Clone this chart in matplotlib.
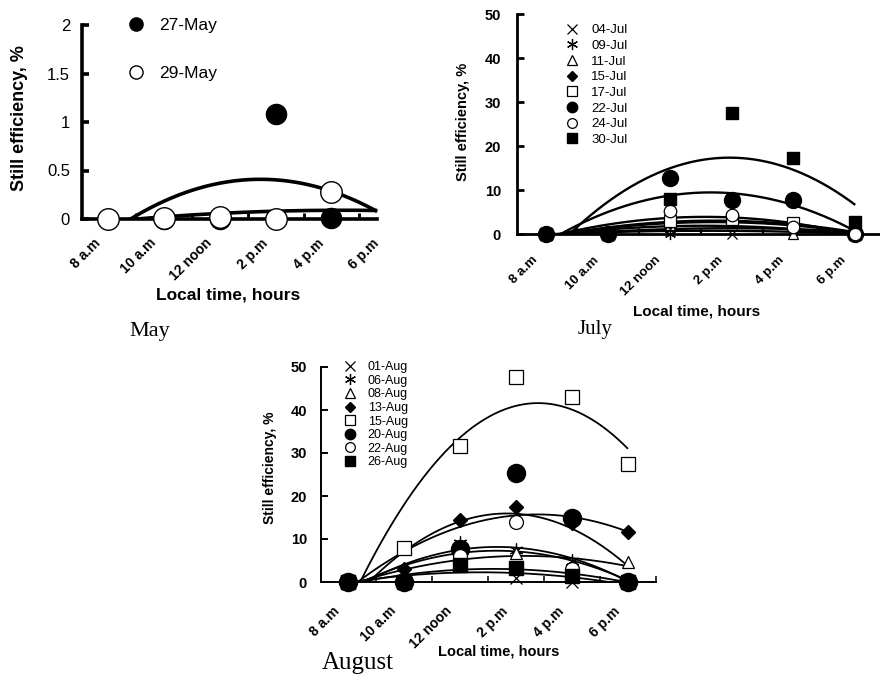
import numpy as np
import matplotlib
matplotlib.use('Agg')
import matplotlib.pyplot as plt
from matplotlib.lines import Line2D
from matplotlib.transforms import ScaledTranslation

plt.rcParams['font.family'] = ['Liberation Sans', 'DejaVu Sans']

W, H, DPI = 880, 679, 100

# ---------------- data ----------------
times = ['8 a.m', '10 a.m', '12 noon', '2 p.m', '4 p.m', '6 p.m']

may_labels = ['27-May', '29-May']
may_27 = [0, 0, 0, 1.08, 0.01, np.nan]
may_29 = [0, 0.01, 0.02, 0, 0.28, 0]
may_yticks = [0, 0.5, 1, 1.5, 2]
may_yticklabels = ['0', '0.5', '1', '1.5', '2']

jul_labels = ['04-Jul', '09-Jul', '11-Jul', '15-Jul', '17-Jul', '22-Jul', '24-Jul', '30-Jul']
jul_04 = [0, 0, 1.5, 0, 0.8, 0]
jul_09 = [0, 0, 0, 2.5, 1.5, 0]
jul_11 = [0, 0, 2.0, 3.0, 0, 0]
jul_15 = [0, 0, 2.5, 3.5, 2.0, 0]
jul_17 = [0, 0, 3.0, 3.5, 2.6, 0]
jul_22 = [0, 0, 12.8, 7.8, 7.7, 0]
jul_24 = [0, 0, 5.2, 4.3, 1.5, 0]
jul_30 = [0, 0, 7.9, 27.5, 17.2, 2.7]

aug_labels = ['01-Aug', '06-Aug', '08-Aug', '13-Aug', '15-Aug', '20-Aug', '22-Aug', '26-Aug']
aug_01 = [0, 0, 5.0, 1.0, 0, 0]
aug_06 = [0, 0, 9.0, 7.4, 5.0, 0]
aug_08 = [0, 0, 8.0, 6.7, 3.2, 4.6]
aug_13 = [0, 3.0, 14.4, 17.5, 13.8, 11.7]
aug_15 = [0, 7.9, 31.6, 47.7, 43.0, 27.4]
aug_20 = [0, 0, 7.7, 25.3, 14.9, 0]
aug_22 = [0, 0, 6.0, 13.9, 3.0, 0]
aug_26 = [0, 0, 4.0, 3.3, 1.4, 0]

big_yticks = [0, 10, 20, 30, 40, 50]
big_yticklabels = ['0', '10', '20', '30', '40', '50']

x_pos = np.arange(len(times))

# ---------------- figure ----------------
fig = plt.figure(figsize=(W / DPI, H / DPI), dpi=DPI)
fig.patch.set_facecolor('white')


def add_axes_px(l, r, t, b):
    return fig.add_axes([l / W, 1 - b / H, (r - l) / W, (b - t) / H])


def px2ax(ax, px, py):
    return ax.transAxes.inverted().transform((px, H - py))


def setup(ax, xlim, xbounds, ylim, yticks, yticklabels, spine_w, ytick_fs, ytick_w,
          ypad_px, xtick_fs, xpad_px, xdx_px, minor_x):
    ax.set_xlim(*xlim)
    ax.set_ylim(*ylim)
    for s in ['top', 'right']:
        ax.spines[s].set_visible(False)
    for s in ['left', 'bottom']:
        ax.spines[s].set_linewidth(spine_w)
        ax.spines[s].set_capstyle('projecting')
    ax.spines['bottom'].set_bounds(*xbounds)
    ax.set_yticks(yticks)
    ax.set_yticklabels(yticklabels, fontsize=ytick_fs, fontweight=ytick_w)
    ax.tick_params(axis='y', direction='in', length=5, width=spine_w, pad=ypad_px * 72 / DPI)
    ax.set_xticks(x_pos)
    ax.set_xticklabels(times, fontsize=xtick_fs, fontweight='bold', rotation=45,
                       ha='right', va='top', rotation_mode='anchor')
    ax.tick_params(axis='x', which='major', length=0, pad=xpad_px * 72 / DPI)
    ax.set_xticks(minor_x, minor=True)
    ax.tick_params(axis='x', which='minor', direction='in', length=4, width=spine_w * 0.8)
    off = ScaledTranslation(xdx_px / DPI, 0, fig.dpi_scale_trans)
    for lab in ax.get_xticklabels():
        lab.set_transform(lab.get_transform() + off)
    ax.set_facecolor('none')


def draw(ax, series, styles, xend, lw):
    x0 = ax.get_xlim()[0]
    xs = np.linspace(x0, xend, 400)
    for y, st in zip(series, styles):
        y = np.asarray(y, float)
        ok = ~np.isnan(y)
        coef = np.polyfit(x_pos[ok], y[ok], 2)
        ax.plot(xs, np.polyval(coef, xs), color=st.get('lc', 'black'), lw=lw,
                ls=st.get('ls', '-'), zorder=2, solid_capstyle='butt')
    keep = x_pos <= xend + 1e-9
    for y, st in zip(series, styles):
        ax.plot(x_pos[keep], np.asarray(y, float)[keep], ls='none', marker=st['m'],
                ms=st['ms'], mfc=st['fc'], mec='black', mew=st.get('mew', 1.0),
                clip_on=False, zorder=3)


def legend(ax, labels, styles, fs, px, py, spacing, pad=0.8):
    handles = [Line2D([], [], ls='none', marker=st['m'], ms=st['lms'], mfc=st['fc'],
                      mec='black', mew=st.get('mew', 1.0)) for st in styles]
    ax.legend(handles, labels, loc='upper left', bbox_to_anchor=(px / W, 1 - py / H),
              bbox_transform=fig.transFigure, frameon=False, fontsize=fs,
              handlelength=1.0, handletextpad=pad, labelspacing=spacing,
              borderpad=0, borderaxespad=0)


def ylab(ax, text, fs, px, py):
    ax.set_ylabel(text, fontsize=fs, fontweight='bold')
    ax.yaxis.label.set_va('center')
    ax.yaxis.set_label_coords(*px2ax(ax, px, py))


def xlab(ax, text, fs, px, py):
    ax.set_xlabel(text, fontsize=fs, fontweight='bold')
    ax.xaxis.label.set_va('center')
    ax.xaxis.set_label_coords(*px2ax(ax, px, py))


ast = (6, 2, 0)
serif = ['Liberation Serif', 'DejaVu Serif']

# ---------------- May ----------------
ax1 = add_axes_px(82, 390, 25, 219)
setup(ax1, (-0.47, 5.05), (-0.47, 4.82), (0, 2), may_yticks, may_yticklabels, 2.6,
      12, 'normal', 12, 10, 17, -15, [0.5, 1.5, 2.5, 3.5, 4.5])
may_styles = [dict(m='o', ms=14.5, lms=9.5, fc='black'),
              dict(m='o', ms=15.5, lms=9.5, fc='white')]
draw(ax1, [may_27, may_29], may_styles, 4.82, 2.6)
legend(ax1, may_labels, may_styles, 12.5, 127, 18, 1.9, 0.85)
ylab(ax1, 'Still efficiency, %', 13, 19, 118)
xlab(ax1, 'Local time, hours', 12.5, 228, 295)
fig.text(150 / W, 1 - 331 / H, 'May', family=serif, fontsize=16, ha='center', va='center')

# ---------------- July ----------------
ax2 = add_axes_px(517, 880, 14, 234)
setup(ax2, (-0.47, 5.4), (-0.47, 5.4), (0, 50), big_yticks, big_yticklabels, 2.0,
      10.5, 'bold', 16, 9.5, 20, -15, [0.5, 1.5, 2.5, 3.5, 4.5])
jul_styles = [dict(m='x', ms=7, lms=7, fc='black', mew=0.9),
              dict(m=ast, ms=8, lms=8, fc='black', mew=0.9),
              dict(m='^', ms=7, lms=7, fc='white', mew=0.9),
              dict(m='D', ms=6, lms=5.5, fc='black'),
              dict(m='s', ms=8, lms=7, fc='white', mew=0.9),
              dict(m='o', ms=11.5, lms=7.5, fc='black'),
              dict(m='o', ms=9, lms=7, fc='white', mew=0.9),
              dict(m='s', ms=9, lms=7, fc='black')]
draw(ax2, [jul_04, jul_09, jul_11, jul_15, jul_17, jul_22, jul_24, jul_30],
     jul_styles, 5.0, 1.7)
legend(ax2, jul_labels, jul_styles, 9.5, 565, 24, 0.26, 1.0)
ylab(ax2, 'Still efficiency, %', 10.5, 463, 122)
xlab(ax2, 'Local time, hours', 11, 697, 312)
fig.text(595 / W, 1 - 329 / H, 'July', family=serif, fontsize=15, ha='center', va='center')

# ---------------- August ----------------
ax3 = add_axes_px(321, 656, 367, 582)
setup(ax3, (-0.48, 5.5), (-0.48, 5.5), (0, 50), big_yticks, big_yticklabels, 1.4,
      10.5, 'bold', 14, 10, 22, -15, [0.5, 1.5, 2.5, 3.5, 4.5, 5.5])
aug_styles = [dict(m='x', ms=9, lms=7, fc='black', mew=0.9),
              dict(m=ast, ms=10, lms=8, fc='black', mew=0.9),
              dict(m='^', ms=9, lms=7, fc='white', mew=0.9),
              dict(m='D', ms=7, lms=5.5, fc='black'),
              dict(m='s', ms=10, lms=7, fc='white', mew=0.9),
              dict(m='o', ms=13, lms=7.5, fc='black'),
              dict(m='o', ms=10, lms=7, fc='white', mew=0.9),
              dict(m='s', ms=9.5, lms=7.5, fc='black')]
draw(ax3, [aug_01, aug_06, aug_08, aug_13, aug_15, aug_20, aug_22, aug_26],
     aug_styles, 5.0, 1.3)
legend(ax3, aug_labels, aug_styles, 9, 344, 361, 0.13, 0.9)
ylab(ax3, 'Still efficiency, %', 10, 270, 468)
xlab(ax3, 'Local time, hours', 10.5, 499, 651)
fig.text(358 / W, 1 - 663 / H, 'August', family=serif, fontsize=18, ha='center', va='center')

fig.savefig('out.png', dpi=DPI, facecolor='white')
